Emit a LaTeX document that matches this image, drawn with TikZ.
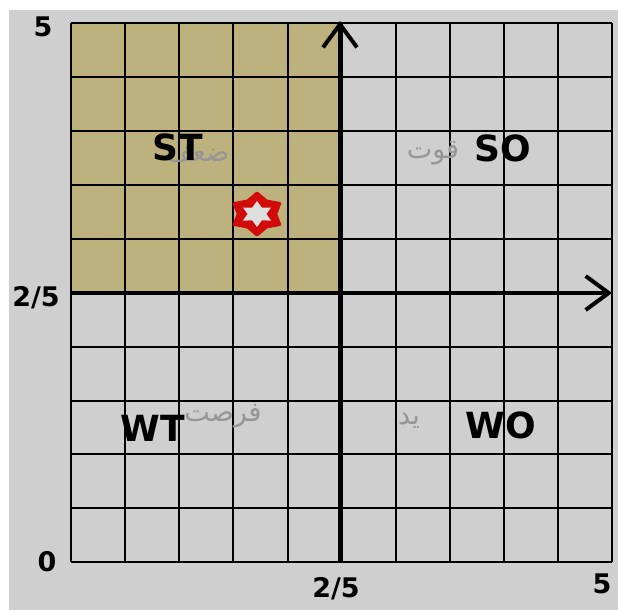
\documentclass[tikz,border=0pt]{standalone}
\usepackage{fontspec}
\setmainfont{DejaVu Sans}
\newfontfamily\arabicfont[Script=Arabic]{DejaVu Sans}
\TeXXeTstate=1
\usetikzlibrary{arrows.meta}
\definecolor{bgcol}{RGB}{207,207,207}
\definecolor{tancol}{RGB}{189,178,126}
\definecolor{starred}{RGB}{210,10,10}
\definecolor{arabgray}{RGB}{150,150,150}
\begin{document}
\begin{tikzpicture}[x=1pt,y=-1pt,
  gridline/.style={black, line width=2pt},
  axisline/.style={black, line width=4.5pt, -{Straight Barb[length=23pt,width=34pt,line width=4pt]}},
  quad/.style={inner sep=0pt, font=\fontsize{36}{40}\selectfont\bfseries},
  arab/.style={inner sep=0pt, text=arabgray, font=\arabicfont\fontsize{27}{30}\selectfont},
  num/.style={inner sep=0pt, font=\fontsize{27}{30}\selectfont\bfseries}]
\useasboundingbox (0,0) rectangle (618,610);
\fill[bgcol] (9,10) rectangle (618,610);
\fill[tancol] (71,23) rectangle (340,293);
\foreach \i in {0,...,10} {
  \draw[gridline] ({71+54.13*\i},23) -- ({71+54.13*\i},562);
  \draw[gridline] (71,{23+53.93*\i}) -- (612,{23+53.93*\i});
}
\coordinate (xs) at (71,293);
\coordinate (xe) at (612,293);
\coordinate (ys) at (340,562);
\coordinate (ye) at (340,21);
\draw[axisline] (xs) -- (xe);
\draw[axisline] (ys) -- (ye);
% star
\begin{scope}[shift={(257,214)}, xscale=1.25]
  \filldraw[starred, line width=3pt, line join=round]
    (90:21) -- (120:15) -- (150:21) -- (180:15) -- (210:21) -- (240:15)
    -- (270:21) -- (300:15) -- (330:21) -- (0:15) -- (30:21) -- (60:15) -- cycle;
  \fill[gray!25]
    (90:13) -- (120:7.5) -- (150:13) -- (180:7.5) -- (210:13) -- (240:7.5)
    -- (270:13) -- (300:7.5) -- (330:13) -- (0:7.5) -- (30:13) -- (60:7.5) -- cycle;
\end{scope}
% arabic labels
\node[arab] (weak) at (197,155) {\beginR ضعف\endR};
\node[arab] (strong) at (433,153) {\beginR قوت\endR};
\node[arab] (opp) at (223,416) {\beginR فرصت\endR};
\node[arab] (threat) at (409,421) {\beginR ید\endR};
% quadrant labels
\node[quad] (st) at (178,147) {ST};
\node[quad] (so) at (503,148) {SO};
\node[quad] (wt) at (153,428) {WT};
\node[quad] (wo) at (501,425) {WO};
% numbers
\node[num] (n5top) at (43,27) {5};
\node[num] (n25l) at (36,298) {2/5};
\node[num] (n0) at (47,562) {0};
\node[num] (n25b) at (336,589) {2/5};
\node[num] (n5b) at (602,584) {5};
\end{tikzpicture}
\end{document}
